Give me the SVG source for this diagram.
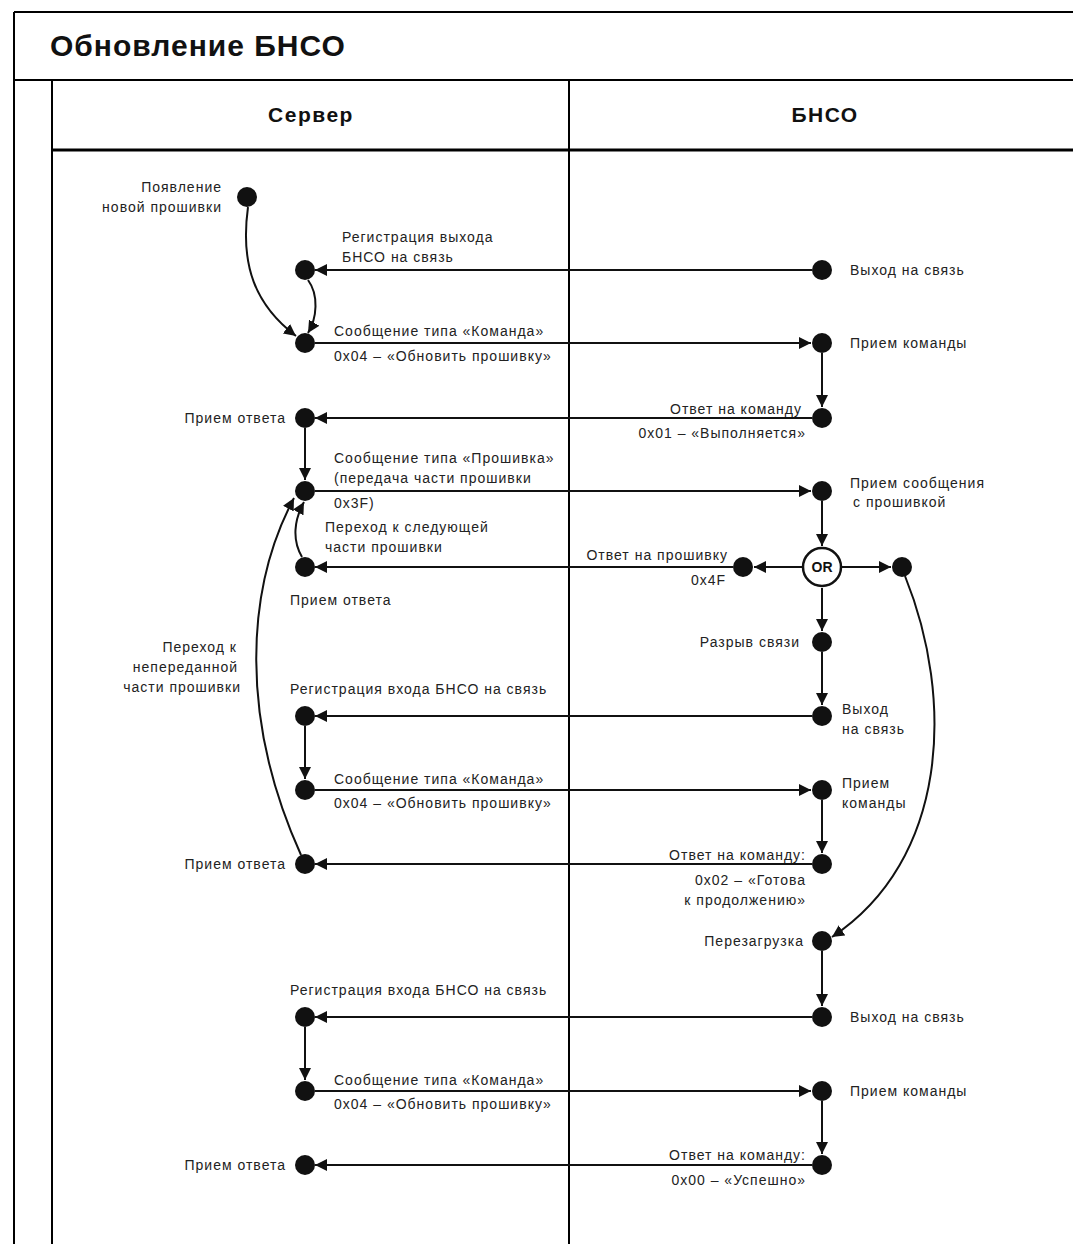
<svg xmlns="http://www.w3.org/2000/svg" width="1073" height="1244" viewBox="0 0 1073 1244">
<defs>
<style>
.frame{fill:none;stroke:#000;stroke-width:2}
.thick{fill:none;stroke:#000;stroke-width:3}
.title{font-family:"Liberation Sans",Arial,sans-serif;font-size:30px;font-weight:bold;letter-spacing:1px;fill:#111}
.hdr{font-family:"Liberation Sans",Arial,sans-serif;font-size:21px;font-weight:bold;letter-spacing:1.5px;fill:#111}
.lbl{font-family:"Liberation Sans",Arial,sans-serif;font-size:14px;letter-spacing:1px;fill:#222}
.end{text-anchor:end}
.mid{text-anchor:middle}
.dot{fill:#111}
.or{fill:#fff;stroke:#111;stroke-width:2.5}
.ortxt{font-family:"Liberation Sans",Arial,sans-serif;font-size:14px;font-weight:bold;fill:#111;text-anchor:middle}
.e{fill:none;stroke:#111;stroke-width:2;marker-end:url(#ah)}
</style>
<marker id="ah" viewBox="0 0 12 12" refX="12" refY="6" markerWidth="12" markerHeight="12" markerUnits="userSpaceOnUse" orient="auto">
<path d="M0,0 L12,6 L0,12 z" fill="#111"/>
</marker>
</defs>
<rect width="1073" height="1244" fill="#fff"/>

<g id="frame">
<line class="frame" x1="14" y1="12" x2="1073" y2="12"/>
<line class="frame" x1="14" y1="12" x2="14" y2="1244"/>
<line class="frame" x1="14" y1="80" x2="1073" y2="80"/>
<line class="frame" x1="52" y1="80" x2="52" y2="1244"/>
<line class="thick" x1="52" y1="150" x2="1073" y2="150"/>
<line class="frame" x1="569" y1="80" x2="569" y2="1244"/>
<text class="title" x="50" y="56">Обновление БНСО</text>
<text class="hdr mid" x="311" y="122">Сервер</text>
<text class="hdr mid" x="825" y="122">БНСО</text>
</g>

<g id="connectors">
<path class="e" d="M248,207 C 240,265 255,305 296,336"/>
<path class="e" d="M308,280 C 319,295 317,318 308,333"/>
<path class="e" d="M812,270 H315"/>
<path class="e" d="M315,343 H811"/>
<path class="e" d="M822,353 V407"/>
<path class="e" d="M812,418 H315"/>
<path class="e" d="M305,428 V480"/>
<path class="e" d="M315,491 H811"/>
<path class="e" d="M822,501 V546"/>
<path class="e" d="M802,567 H754"/>
<path class="e" d="M733,567 H315"/>
<path class="e" d="M842,567 H891"/>
<path class="e" d="M822,588 V631"/>
<path class="e" d="M822,652 V705"/>
<path class="e" d="M812,716 H315"/>
<path class="e" d="M305,726 V779"/>
<path class="e" d="M315,790 H811"/>
<path class="e" d="M822,800 V853"/>
<path class="e" d="M812,864 H315"/>
<path class="e" d="M302,557 C 292,540 294,520 304,502"/>
<path class="e" d="M301,855 C 240,720 245,590 294,498"/>
<path class="e" d="M905,576 C 955,700 948,860 832,937"/>
<path class="e" d="M822,951 V1006"/>
<path class="e" d="M812,1017 H315"/>
<path class="e" d="M305,1027 V1080"/>
<path class="e" d="M315,1091 H811"/>
<path class="e" d="M822,1101 V1154"/>
<path class="e" d="M812,1165 H315"/>
</g>

<g id="n-start"><circle class="dot" cx="247" cy="197" r="10"/>
<text class="lbl end" x="222" y="192">Появление</text><text class="lbl end" x="222" y="212">новой прошивки</text></g>
<g id="n-a1"><circle class="dot" cx="305" cy="270" r="10"/>
<text class="lbl" x="342" y="242">Регистрация выхода</text><text class="lbl" x="342" y="262">БНСО на связь</text></g>
<g id="n-a2"><circle class="dot" cx="305" cy="343" r="10"/>
<text class="lbl" x="334" y="336">Сообщение типа «Команда»</text><text class="lbl" x="334" y="361">0x04 – «Обновить прошивку»</text></g>
<g id="n-a3"><circle class="dot" cx="305" cy="418" r="10"/>
<text class="lbl end" x="286" y="423">Прием ответа</text></g>
<g id="n-a4"><circle class="dot" cx="305" cy="491" r="10"/>
<text class="lbl" x="334" y="463">Сообщение типа «Прошивка»</text><text class="lbl" x="334" y="483">(передача части прошивки</text><text class="lbl" x="334" y="508">0x3F)</text></g>
<g id="t-next"><text class="lbl" x="325" y="532">Переход к следующей</text><text class="lbl" x="325" y="552">части прошивки</text></g>
<g id="n-a5"><circle class="dot" cx="305" cy="567" r="10"/>
<text class="lbl" x="290" y="605">Прием ответа</text></g>
<g id="t-rest"><text class="lbl end" x="237" y="652">Переход к</text><text class="lbl end" x="238" y="672">непереданной</text><text class="lbl end" x="241" y="692">части прошивки</text></g>
<g id="n-a6"><circle class="dot" cx="305" cy="716" r="10"/>
<text class="lbl" x="290" y="694">Регистрация входа БНСО на связь</text></g>
<g id="n-a7"><circle class="dot" cx="305" cy="790" r="10"/>
<text class="lbl" x="334" y="784">Сообщение типа «Команда»</text><text class="lbl" x="334" y="808">0x04 – «Обновить прошивку»</text></g>
<g id="n-a8"><circle class="dot" cx="305" cy="864" r="10"/>
<text class="lbl end" x="286" y="869">Прием ответа</text></g>
<g id="n-a9"><circle class="dot" cx="305" cy="1017" r="10"/>
<text class="lbl" x="290" y="995">Регистрация входа БНСО на связь</text></g>
<g id="n-a10"><circle class="dot" cx="305" cy="1091" r="10"/>
<text class="lbl" x="334" y="1085">Сообщение типа «Команда»</text><text class="lbl" x="334" y="1109">0x04 – «Обновить прошивку»</text></g>
<g id="n-a11"><circle class="dot" cx="305" cy="1165" r="10"/>
<text class="lbl end" x="286" y="1170">Прием ответа</text></g>

<g id="n-b1"><circle class="dot" cx="822" cy="270" r="10"/>
<text class="lbl" x="850" y="275">Выход на связь</text></g>
<g id="n-b2"><circle class="dot" cx="822" cy="343" r="10"/>
<text class="lbl" x="850" y="348">Прием команды</text></g>
<g id="n-b3"><circle class="dot" cx="822" cy="418" r="10"/>
<text class="lbl end" x="802" y="414">Ответ на команду</text><text class="lbl end" x="806" y="438">0x01 – «Выполняется»</text></g>
<g id="n-b4"><circle class="dot" cx="822" cy="491" r="10"/>
<text class="lbl" x="850" y="488">Прием сообщения</text><text class="lbl" x="853" y="507">с прошивкой</text></g>
<g id="n-or"><circle class="or" cx="822" cy="567" r="19"/>
<text class="ortxt" x="822" y="572">OR</text></g>
<g id="n-b5"><circle class="dot" cx="743" cy="567" r="10"/>
<text class="lbl end" x="728" y="560">Ответ на прошивку</text><text class="lbl end" x="726" y="585">0x4F</text></g>
<g id="n-b6"><circle class="dot" cx="902" cy="567" r="10"/></g>
<g id="n-b7"><circle class="dot" cx="822" cy="642" r="10"/>
<text class="lbl end" x="800" y="647">Разрыв связи</text></g>
<g id="n-b8"><circle class="dot" cx="822" cy="716" r="10"/>
<text class="lbl" x="842" y="714">Выход</text><text class="lbl" x="842" y="734">на связь</text></g>
<g id="n-b9"><circle class="dot" cx="822" cy="790" r="10"/>
<text class="lbl" x="842" y="788">Прием</text><text class="lbl" x="842" y="808">команды</text></g>
<g id="n-b10"><circle class="dot" cx="822" cy="864" r="10"/>
<text class="lbl end" x="806" y="860">Ответ на команду:</text><text class="lbl end" x="806" y="885">0x02 – «Готова</text><text class="lbl end" x="806" y="905">к продолжению»</text></g>
<g id="n-b11"><circle class="dot" cx="822" cy="941" r="10"/>
<text class="lbl end" x="804" y="946">Перезагрузка</text></g>
<g id="n-b12"><circle class="dot" cx="822" cy="1017" r="10"/>
<text class="lbl" x="850" y="1022">Выход на связь</text></g>
<g id="n-b13"><circle class="dot" cx="822" cy="1091" r="10"/>
<text class="lbl" x="850" y="1096">Прием команды</text></g>
<g id="n-b14"><circle class="dot" cx="822" cy="1165" r="10"/>
<text class="lbl end" x="806" y="1160">Ответ на команду:</text><text class="lbl end" x="806" y="1185">0x00 – «Успешно»</text></g>
</svg>
